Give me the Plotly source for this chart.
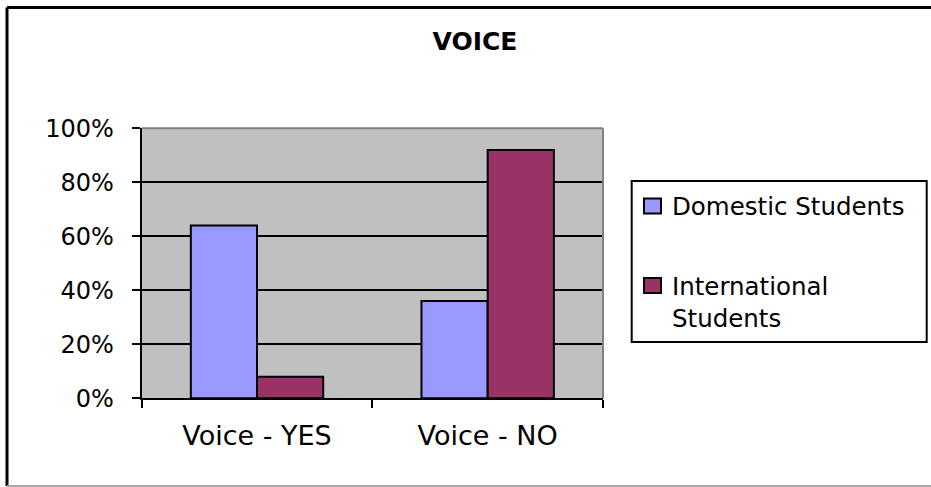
import plotly.graph_objects as go

# Chart data
categories = ["Voice - YES", "Voice - NO"]
series_names = ["Domestic Students", "International Students"]
legend_labels = ["Domestic Students", "International<br>Students"]
domestic = [64, 36]
international = [8, 92]
y_ticks = [0, 20, 40, 60, 80, 100]
y_tick_text = ["0%", "20%", "40%", "60%", "80%", "100%"]

colors = ["#9999FF", "#993366"]

W, H = 931, 487
FONT = "DejaVu Sans"


def fx(x):
    return x / W


def fy(y):
    return 1 - y / H


fig = go.Figure()
for name, vals, col in zip(series_names, [domestic, international], colors):
    fig.add_trace(go.Bar(
        x=categories, y=vals, name=name,
        marker=dict(color=col, line=dict(color="black", width=2)),
        showlegend=False,
    ))

shapes = []
# outer chart frame
shapes.append(dict(type="line", xref="paper", yref="paper",
                   x0=fx(7), x1=fx(940), y0=fy(7.5), y1=fy(7.5),
                   line=dict(color="black", width=3)))
shapes.append(dict(type="line", xref="paper", yref="paper",
                   x0=fx(7), x1=fx(7), y0=fy(7.5), y1=fy(486),
                   line=dict(color="black", width=3)))
shapes.append(dict(type="line", xref="paper", yref="paper",
                   x0=fx(7), x1=fx(940), y0=fy(486), y1=fy(486),
                   line=dict(color="#A8A8A8", width=2)))
# plot area top/right border
shapes.append(dict(type="line", xref="paper", yref="paper",
                   x0=fx(141.7), x1=fx(603), y0=fy(128.3), y1=fy(128.3),
                   line=dict(color="#808080", width=2), layer="above"))
shapes.append(dict(type="line", xref="paper", yref="paper",
                   x0=fx(603), x1=fx(603), y0=fy(128.3), y1=fy(398.3),
                   line=dict(color="#808080", width=2), layer="above"))

# legend box
shapes.append(dict(type="rect", xref="paper", yref="paper",
                   x0=fx(631.7), x1=fx(926.7), y0=fy(181), y1=fy(342),
                   line=dict(color="black", width=2), fillcolor="white"))

annotations = []
swatch_y = [206, 285.5]
text_y = [206.5, 302]
for lab, col, sy, ty in zip(legend_labels, colors, swatch_y, text_y):
    shapes.append(dict(type="rect", xref="paper", yref="paper",
                       x0=fx(644), x1=fx(661), y0=fy(sy - 7.5), y1=fy(sy + 7.5),
                       line=dict(color="black", width=2), fillcolor=col))
    annotations.append(dict(xref="paper", yref="paper", x=fx(670), y=fy(ty),
                            xanchor="left", yanchor="middle", align="left",
                            text=lab, showarrow=False,
                            font=dict(family=FONT, size=24.5, color="black")))

fig.update_layout(
    width=W, height=H,
    margin=dict(l=0, r=0, t=0, b=0, autoexpand=False),
    paper_bgcolor="white",
    plot_bgcolor="#C0C0C0",
    barmode="group",
    bargap=0.426,
    bargroupgap=0,
    title=dict(text="<b>VOICE</b>", x=fx(475), y=fy(41),
               xanchor="center", yanchor="middle",
               font=dict(family=FONT, size=25, color="black")),
    xaxis=dict(domain=[fx(141.7), fx(603)], automargin=False,
               showline=True, linecolor="black", linewidth=2,
               ticks="outside", tickson="boundaries", ticklen=8,
               tickwidth=2, tickcolor="black",
               ticklabelstandoff=12,
               tickfont=dict(family=FONT, size=27, color="black"),
               showgrid=False, fixedrange=True),
    yaxis=dict(domain=[fy(398.3), fy(128.3)], range=[0, 100],
               automargin=False,
               tickvals=y_ticks, ticktext=y_tick_text,
               showline=True, linecolor="black", linewidth=2,
               ticks="outside", ticklen=8, tickwidth=2, tickcolor="black",
               ticklabelstandoff=13,
               tickfont=dict(family=FONT, size=24, color="black"),
               showgrid=True, gridcolor="black", gridwidth=1.5,
               zeroline=False, fixedrange=True),
    shapes=shapes,
    annotations=annotations,
    font=dict(family=FONT, color="black"),
)

fig.write_html("out.html")
